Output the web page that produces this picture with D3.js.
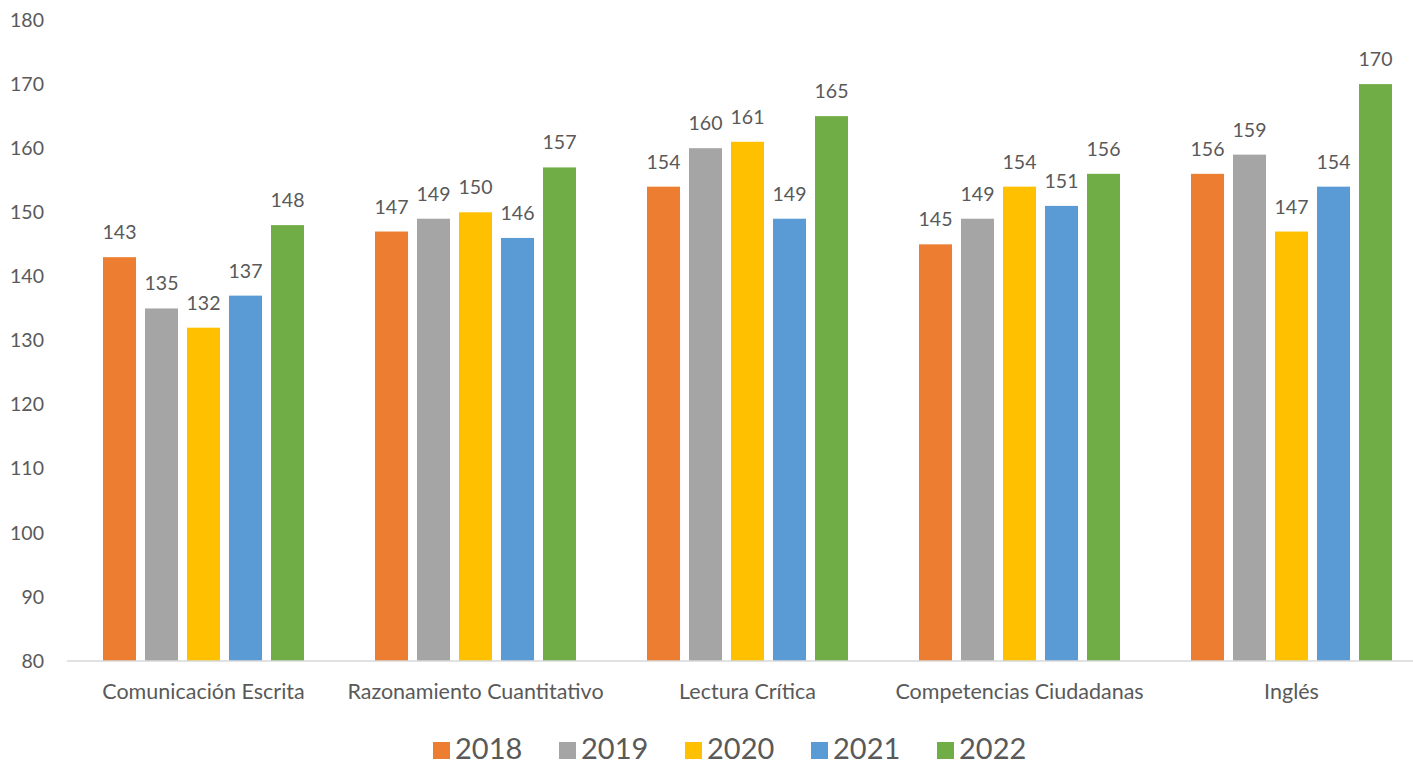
<!DOCTYPE html>
<html>
<head>
<meta charset="utf-8"/>
<title>Puntajes por competencia</title>
<script src="https://d3js.org/d3.v7.min.js"></script>
<style>
body{margin:0;background:#fff;}
text{font-family:Lato, "Open Sans", sans-serif;fill:#595959;}
</style>
</head>
<body>
<div id="chart"></div>
<script>
// categorias y series
var categorias = ["Comunicación Escrita", "Razonamiento Cuantitativo", "Lectura Crítica", "Competencias Ciudadanas", "Inglés"];
var anios = ["2018", "2019", "2020", "2021", "2022"];
var v2018 = [143, 147, 154, 145, 156];
var v2019 = [135, 149, 160, 149, 159];
var v2020 = [132, 150, 161, 154, 147];
var v2021 = [137, 146, 149, 151, 154];
var v2022 = [148, 157, 165, 156, 170];
var yTicks = [80, 90, 100, 110, 120, 130, 140, 150, 160, 170, 180];
var colores = ["#ED7D31", "#A5A5A5", "#FFC000", "#5B9BD5", "#70AD47"];

var series = [v2018, v2019, v2020, v2021, v2022];
var width = 1413, height = 764;

var svg = d3.select('#chart').append('svg')
	.attr('width', width)
	.attr('height', height);

var y = d3.scaleLinear().domain([80, 180]).range([661, 20]);

var x0 = d3.scaleBand()
	.domain(categorias)
	.range([67.5, 1427.5])
	.paddingInner(0.228)
	.paddingOuter(0.114);

var x1 = d3.scaleBand()
	.domain(anios)
	.range([0, x0.bandwidth()])
	.paddingInner(0.214)
	.paddingOuter(0.107);

var color = d3.scaleOrdinal().domain(anios).range(colores);

// eje y (solo etiquetas)
var yAxis = d3.axisLeft(y).tickValues(yTicks).tickSize(0).tickPadding(0);
svg.append('g')
	.attr('transform', 'translate(44,0)')
	.call(yAxis)
	.call(function(g){ g.select('.domain').remove(); })
	.selectAll('text')
	.attr('font-size', '19.5px')
	.attr('font-family', 'Lato')
	.attr('fill', '#595959');

// barras
var grupos = svg.append('g').selectAll('g')
	.data(categorias)
	.enter().append('g')
	.attr('transform', function(d){ return 'translate(' + x0(d) + ',0)'; });

grupos.each(function(cat, ci){
	var g = d3.select(this);
	anios.forEach(function(a, si){
		var val = series[si][ci];
		g.append('rect')
			.attr('x', x1(a))
			.attr('y', y(val))
			.attr('width', x1.bandwidth())
			.attr('height', y(80) - y(val))
			.attr('fill', color(a));
		g.append('text')
			.attr('x', x1(a) + x1.bandwidth() / 2)
			.attr('y', y(val) - 18)
			.attr('text-anchor', 'middle')
			.attr('font-size', '19.5px')
			.text(val);
	});
});

// eje x
var xAxis = d3.axisBottom(x0).tickSize(0).tickPadding(0);
var gx = svg.append('g')
	.attr('transform', 'translate(0,' + y(80) + ')')
	.call(xAxis);
gx.select('.domain').attr('stroke', '#d9d9d9').attr('stroke-width', 1.5)
	.attr('d', 'M67,0H1413');
gx.selectAll('text')
	.attr('dy', 0)
	.attr('y', 38)
	.attr('font-size', '21.5px')
	.attr('font-family', 'Lato')
	.attr('fill', '#595959');

// leyenda
var leg = svg.append('g').selectAll('g')
	.data(anios)
	.enter().append('g')
	.attr('transform', function(d, i){ return 'translate(' + (433 + i * 126) + ',742)'; });
leg.append('rect')
	.attr('width', 17)
	.attr('height', 17)
	.attr('fill', function(d){ return color(d); });
leg.append('text')
	.attr('x', 22)
	.attr('y', 17)
	.attr('font-size', '29px')
	.text(function(d){ return d; });
</script>
</body>
</html>
